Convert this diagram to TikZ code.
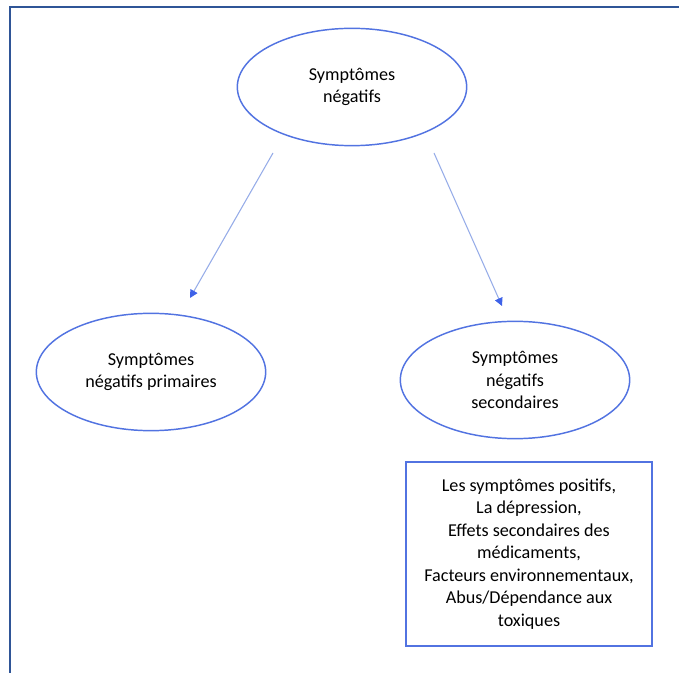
\documentclass[tikz,border=0pt]{standalone}
\usepackage{fontspec}
\setmainfont{Carlito}
\usepackage{tikz}
\usetikzlibrary{shapes,arrows.meta,positioning}
\definecolor{framebl}{RGB}{47,85,151}
\definecolor{edgebl}{RGB}{82,115,225}
\definecolor{arrbl}{RGB}{150,172,232}
\definecolor{tipbl}{RGB}{62,98,232}
\newcommand{\txt}{\fontsize{13.6}{16.9}\selectfont}

\begin{document}
\begin{tikzpicture}[x=0.75pt,y=-0.75pt,
  sympt/.style={ellipse,draw=edgebl,line width=1.1pt,inner sep=0pt,
    minimum width=172pt,minimum height=88pt,align=center,font=\txt},
  causes/.style={rectangle,draw=edgebl,line width=1.1pt,
    minimum width=184.5pt,minimum height=138pt,align=center,font=\txt},
  arr/.style={draw=arrbl,line width=0.8pt,
    -{Triangle[length=6pt,width=6pt,color=tipbl]}}]
\useasboundingbox (0,0) rectangle (679,673);
\begin{scope}
\clip (0,0) rectangle (679,673);
\draw[framebl,line width=1.9pt] (10,7) rectangle (720,720);
\end{scope}
\node[sympt] (neg) at (352,87) {Symptômes\\négatifs};
\node[sympt] (prim) at (151,372) {Symptômes\\négatifs primaires};
\node[sympt] (sec) at (515,380) {Symptômes\\négatifs\\secondaires};
\node[causes] (list) at (529,554) {Les symptômes positifs,\\La dépression,\\Effets secondaires des\\médicaments,\\Facteurs environnementaux,\\Abus/Dépendance aux\\toxiques};
\coordinate (a1) at (273,153);
\coordinate (b1) at (190,298);
\coordinate (a2) at (434,153);
\coordinate (b2) at (502,306);
\draw[arr] (a1) -- (b1);
\draw[arr] (a2) -- (b2);
\end{tikzpicture}
\end{document}
